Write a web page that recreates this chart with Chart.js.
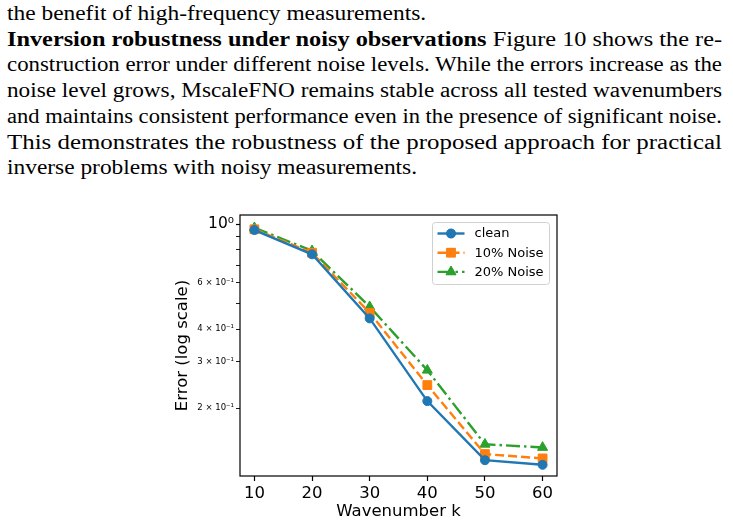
<!DOCTYPE html>
<html>
<head>
<meta charset="utf-8">
<script src="https://cdn.jsdelivr.net/npm/chart.js@4.4.1/dist/chart.umd.min.js"></script>
<style>
  body { margin: 0; background: #fff; width: 733px; height: 523px; overflow: hidden; position: relative; }
  .para {
    position: absolute; left: 7px; top: 1px;
    font-family: "Liberation Serif", serif; font-size: 20px; line-height: 25.7px; color: #000;
  }
  .para .line { white-space: nowrap; width: max-content; transform-origin: 0 0; }
  .chartBox { position: absolute; left: 150px; top: 200px; width: 430px; height: 323px; }
</style>
</head>
<body>
<div class="para">
  <div class="line">the benefit of high-frequency measurements.</div>
  <div class="line j"><b>Inversion robustness under noisy observations</b> Figure 10 shows the re-</div>
  <div class="line j">construction error under different noise levels.  While the errors increase as the</div>
  <div class="line j">noise level grows, MscaleFNO remains stable across all tested wavenumbers</div>
  <div class="line j">and maintains consistent performance even in the presence of significant noise.</div>
  <div class="line j">This demonstrates the robustness of the proposed approach for practical</div>
  <div class="line">inverse problems with noisy measurements.</div>
</div>
<div class="chartBox"><canvas id="chart"></canvas></div>
<script>
// stretch each full line of the paragraph to the text width (LaTeX justified look)
document.querySelectorAll('.para .line').forEach(el => {
  const w = el.getBoundingClientRect().width;
  const s = el.classList.contains('j') ? 715 / w : 1.17;
  el.style.transform = 'scaleX(' + s + ')';
});

// wavenumbers on the x axis
const wavenumbers = [10, 20, 30, 40, 50, 60];

// reconstruction error
const clean = [0.951, 0.769, 0.439, 0.213, 0.127, 0.122];
const noise10 = [0.957, 0.780, 0.461, 0.245, 0.134, 0.129];
const noise20 = [0.970, 0.793, 0.486, 0.279, 0.146, 0.142];

const yTickValues = [0.2, 0.3, 0.4, 0.5, 0.6, 0.7, 0.8, 0.9, 1.0];
const yTickLabels = { 1: '10⁰', 0.6: '6 × 10⁻¹', 0.4: '4 × 10⁻¹', 0.3: '3 × 10⁻¹', 0.2: '2 × 10⁻¹' };

const FONT = 'DejaVu Sans';

const toPoints = (vals) => vals.map((v, i) => ({ x: wavenumbers[i], y: v }));

// frame around the plot area + legend box in the upper right
const framePlugin = {
  id: 'frameAndLegend',
  afterDraw(chart) {
    const { ctx, chartArea: ca } = chart;
    ctx.save();
    ctx.strokeStyle = '#000';
    ctx.lineWidth = 1.2;
    ctx.strokeRect(ca.left, ca.top, ca.right - ca.left, ca.bottom - ca.top);

    const boxW = 117, boxH = 62;
    const bx = ca.right - 7.5 - boxW, by = ca.top + 7.5;
    ctx.beginPath();
    ctx.roundRect(bx, by, boxW, boxH, 3);
    ctx.fillStyle = 'rgba(255,255,255,0.8)';
    ctx.fill();
    ctx.strokeStyle = '#d0d0d0';
    ctx.lineWidth = 1;
    ctx.stroke();

    chart.data.datasets.forEach((ds, i) => {
      const y = by + 11 + i * 19.2;
      const x0 = bx + 5, x1 = bx + 32;
      ctx.strokeStyle = ds.borderColor;
      ctx.lineWidth = ds.borderWidth;
      ctx.setLineDash(ds.borderDash || []);
      ctx.beginPath();
      ctx.moveTo(x0, y);
      ctx.lineTo(x1, y);
      ctx.stroke();
      ctx.setLineDash([]);
      ctx.fillStyle = ds.backgroundColor;
      ctx.lineWidth = 1;
      Chart.helpers.drawPoint(ctx, { pointStyle: ds.pointStyle, radius: ds.pointRadius, borderWidth: 1 }, (x0 + x1) / 2, y);
      ctx.fill();
      ctx.fillStyle = '#000';
      ctx.font = '13px "' + FONT + '"';
      ctx.textBaseline = 'middle';
      ctx.fillText(ds.label, bx + 42, y + 0.5);
    });
    ctx.restore();
  }
};

new Chart(document.getElementById('chart'), {
  type: 'line',
  data: {
    datasets: [
      {
        label: 'clean',
        data: toPoints(clean),
        borderColor: '#1f77b4',
        backgroundColor: '#1f77b4',
        borderWidth: 2.4,
        pointStyle: 'circle',
        pointRadius: 4.5,
        pointBorderWidth: 1,
      },
      {
        label: '10% Noise',
        data: toPoints(noise10),
        borderColor: '#ff7f0e',
        backgroundColor: '#ff7f0e',
        borderWidth: 2.4,
        borderDash: [9, 4],
        pointStyle: 'rect',
        pointRadius: 6.2,
        pointBorderWidth: 1,
      },
      {
        label: '20% Noise',
        data: toPoints(noise20),
        borderColor: '#2ca02c',
        backgroundColor: '#2ca02c',
        borderWidth: 2.4,
        borderDash: [14, 4, 2.5, 4],
        pointStyle: 'triangle',
        pointRadius: 5.8,
        pointBorderWidth: 1,
      },
    ],
  },
  options: {
    responsive: true,
    maintainAspectRatio: false,
    animation: false,
    layout: { padding: { top: 15, right: 23, left: 0, bottom: 0 } },
    plugins: {
      legend: { display: false },
      tooltip: { enabled: false },
    },
    scales: {
      x: {
        type: 'linear',
        min: 7.5,
        max: 62.5,
        afterBuildTicks: (scale) => { scale.ticks = wavenumbers.map(v => ({ value: v })); },
        afterFit: (scale) => { scale.height = 47; },
        border: { display: false },
        grid: { drawOnChartArea: false, drawTicks: true, tickLength: 5, tickColor: '#000', tickWidth: 1.2 },
        ticks: { color: '#000', padding: 3, maxRotation: 0, font: { family: FONT, size: 16.5 } },
        title: { display: true, text: 'Wavenumber k', color: '#000', padding: { top: 0, bottom: 1 }, font: { family: FONT, size: 16.5 } },
      },
      y: {
        type: 'logarithmic',
        min: 0.1106,
        max: 1.0847,
        afterBuildTicks: (scale) => { scale.ticks = yTickValues.map(v => ({ value: v, major: v === 1 })); },
        afterFit: (scale) => { scale.width = 90; },
        border: { display: false },
        grid: {
          drawOnChartArea: false, drawTicks: true, tickLength: 4, tickColor: '#000',
          tickWidth: (c) => (c.tick && c.tick.value === 1 ? 1.2 : 0.9),
        },
        ticks: {
          color: '#000',
          padding: 2,
          autoSkip: false,
          callback: (v) => yTickLabels[v] || '',
          font: (c) => (c.tick && c.tick.value === 1 ? { family: FONT, size: 15.5 } : { family: FONT, size: 8.5 }),
        },
        title: { display: true, text: 'Error (log scale)', color: '#000', padding: { top: 23, bottom: 0 }, font: { family: FONT, size: 16.5 } },
      },
    },
  },
  plugins: [framePlugin],
});
</script>
</body>
</html>
